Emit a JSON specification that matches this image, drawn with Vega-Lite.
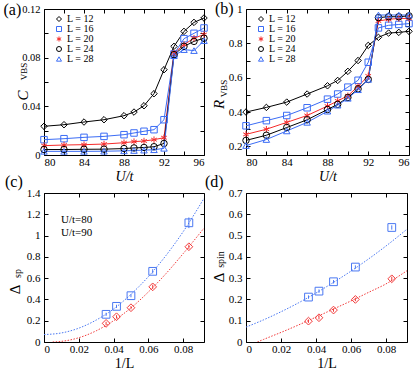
{
"$schema": "https://vega.github.io/schema/vega-lite/v6.json",
"padding": {"left": 3, "top": 0, "right": 0, "bottom": 0},
"background": "white",
"bounds": "flush",
"columns": 2,
"spacing": {"row": 38, "column": 42},
"resolve": {"scale": {"x": "independent", "y": "independent", "color": "independent", "shape": "independent"}, "legend": {"color": "independent", "shape": "independent"}},
"datasets": {
"ab": [
{"U":80,"L":12,"C":0.0236,"R":0.40},{"U":82,"L":12,"C":0.0249,"R":0.427},{"U":84,"L":12,"C":0.0271,"R":0.458},{"U":86,"L":12,"C":0.029,"R":0.505},{"U":88,"L":12,"C":0.0323,"R":0.553},{"U":89,"L":12,"C":0.0353,"R":0.584},{"U":90,"L":12,"C":0.0405,"R":0.637},{"U":91,"L":12,"C":0.0504,"R":0.70},{"U":92,"L":12,"C":0.0701,"R":0.788},{"U":93,"L":12,"C":0.0893,"R":0.835},{"U":94,"L":12,"C":0.1016,"R":0.86},{"U":95,"L":12,"C":0.109,"R":0.864},{"U":96,"L":12,"C":0.1126,"R":0.87},
{"U":80,"L":16,"C":0.0126,"R":0.32},{"U":82,"L":16,"C":0.0134,"R":0.35},{"U":84,"L":16,"C":0.0145,"R":0.38},{"U":86,"L":16,"C":0.0153,"R":0.425},{"U":88,"L":16,"C":0.0167,"R":0.475},{"U":89,"L":16,"C":0.0181,"R":0.505},{"U":90,"L":16,"C":0.0195,"R":0.545},{"U":91,"L":16,"C":0.0208,"R":0.585},{"U":92,"L":16,"C":0.029,"R":0.69},{"U":93,"L":16,"C":0.083,"R":0.89},{"U":94,"L":16,"C":0.0956,"R":0.905},{"U":95,"L":16,"C":0.100,"R":0.91},{"U":96,"L":16,"C":0.1044,"R":0.915},
{"U":80,"L":20,"C":0.0077,"R":0.27},{"U":82,"L":20,"C":0.0082,"R":0.30},{"U":84,"L":20,"C":0.0085,"R":0.34},{"U":86,"L":20,"C":0.009,"R":0.38},{"U":88,"L":20,"C":0.0101,"R":0.435},{"U":89,"L":20,"C":0.011,"R":0.465},{"U":90,"L":20,"C":0.0115,"R":0.495},{"U":91,"L":20,"C":0.0126,"R":0.55},{"U":92,"L":20,"C":0.0142,"R":0.61},{"U":93,"L":20,"C":0.0838,"R":0.93},{"U":94,"L":20,"C":0.0907,"R":0.94},{"U":95,"L":20,"C":0.096,"R":0.945},{"U":96,"L":20,"C":0.099,"R":0.945},
{"U":80,"L":24,"C":0.0045,"R":0.235},{"U":82,"L":24,"C":0.0045,"R":0.265},{"U":84,"L":24,"C":0.0047,"R":0.31},{"U":86,"L":24,"C":0.0048,"R":0.355},{"U":88,"L":24,"C":0.0053,"R":0.415},{"U":89,"L":24,"C":0.0058,"R":0.445},{"U":90,"L":24,"C":0.0062,"R":0.485},{"U":91,"L":24,"C":0.0068,"R":0.535},{"U":92,"L":24,"C":0.0095,"R":0.59},{"U":93,"L":24,"C":0.0825,"R":0.95},{"U":94,"L":24,"C":0.0893,"R":0.955},{"U":95,"L":24,"C":0.0934,"R":0.955},{"U":96,"L":24,"C":0.096,"R":0.96},
{"U":80,"L":28,"C":0.003,"R":0.205},{"U":82,"L":28,"C":0.003,"R":0.24},{"U":84,"L":28,"C":0.003,"R":0.29},{"U":86,"L":28,"C":0.0031,"R":0.34},{"U":88,"L":28,"C":0.0034,"R":0.405},{"U":89,"L":28,"C":0.0037,"R":0.44},{"U":90,"L":28,"C":0.004,"R":0.48},{"U":91,"L":28,"C":0.0043,"R":0.53},{"U":92,"L":28,"C":0.0055,"R":0.59},{"U":93,"L":28,"C":0.0816,"R":0.965},{"U":94,"L":28,"C":0.0866,"R":0.965},{"U":95,"L":28,"C":0.0858,"R":0.965},{"U":96,"L":28,"C":0.094,"R":0.965}
],
"cd": [
{"L":28,"invL":0.0357,"U":80,"sp":0.26,"sp_err":0.015,"spin":0.211,"spin_err":0.008},
{"L":24,"invL":0.0417,"U":80,"sp":0.335,"sp_err":0.015,"spin":0.239,"spin_err":0.008},
{"L":20,"invL":0.05,"U":80,"sp":0.435,"sp_err":0.015,"spin":0.283,"spin_err":0.008},
{"L":16,"invL":0.0625,"U":80,"sp":0.664,"sp_err":0.02,"spin":0.352,"spin_err":0.008},
{"L":12,"invL":0.0833,"U":80,"sp":1.12,"sp_err":0.05,"spin":0.538,"spin_err":0.01},
{"L":28,"invL":0.0357,"U":90,"sp":0.175,"sp_err":0.015,"spin":0.098,"spin_err":0.008},
{"L":24,"invL":0.0417,"U":90,"sp":0.237,"sp_err":0.015,"spin":0.114,"spin_err":0.008},
{"L":20,"invL":0.05,"U":90,"sp":0.322,"sp_err":0.015,"spin":0.15,"spin_err":0.008},
{"L":16,"invL":0.0625,"U":90,"sp":0.518,"sp_err":0.02,"spin":0.2,"spin_err":0.008},
{"L":12,"invL":0.0833,"U":90,"sp":0.895,"sp_err":0.02,"spin":0.297,"spin_err":0.01}
],
"cfit": [
{"x":0,"U":80,"y":0.07},{"x":0.01,"U":80,"y":0.085},{"x":0.02,"U":80,"y":0.13},{"x":0.03,"U":80,"y":0.206},{"x":0.04,"U":80,"y":0.31},{"x":0.05,"U":80,"y":0.448},{"x":0.06,"U":80,"y":0.614},{"x":0.07,"U":80,"y":0.81},{"x":0.08,"U":80,"y":1.036},{"x":0.092,"U":80,"y":1.35},
{"x":0.005,"U":90,"y":0},{"x":0.01,"U":90,"y":0.006},{"x":0.02,"U":90,"y":0.04},{"x":0.03,"U":90,"y":0.105},{"x":0.04,"U":90,"y":0.2},{"x":0.05,"U":90,"y":0.32},{"x":0.06,"U":90,"y":0.47},{"x":0.07,"U":90,"y":0.64},{"x":0.08,"U":90,"y":0.83},{"x":0.092,"U":90,"y":1.07}
],
"dfit": [
{"x":0,"U":80,"y":0.07},{"x":0.01,"U":80,"y":0.104},{"x":0.02,"U":80,"y":0.142},{"x":0.03,"U":80,"y":0.184},{"x":0.04,"U":80,"y":0.23},{"x":0.05,"U":80,"y":0.28},{"x":0.06,"U":80,"y":0.333},{"x":0.07,"U":80,"y":0.39},{"x":0.08,"U":80,"y":0.451},{"x":0.092,"U":80,"y":0.53},
{"x":0.0065,"U":90,"y":0},{"x":0.01,"U":90,"y":0.012},{"x":0.02,"U":90,"y":0.045},{"x":0.03,"U":90,"y":0.08},{"x":0.04,"U":90,"y":0.117},{"x":0.05,"U":90,"y":0.155},{"x":0.06,"U":90,"y":0.193},{"x":0.07,"U":90,"y":0.233},{"x":0.08,"U":90,"y":0.273},{"x":0.092,"U":90,"y":0.335}
]
},
"concat": [
{
"width": 160, "height": 146,
"title": {"text": "(a)", "dx": -40.5, "dy": 17.5},
"data": {"name": "ab"},
"layer": [
{"mark": {"type": "line", "strokeWidth": 1},
 "encoding": {
  "x": {"field": "U", "type": "quantitative", "scale": {"domain": [80, 96], "nice": false, "zero": false},
        "axis": {"values": [80, 84, 88, 92, 96], "title": "U/t", "titleFontStyle": "italic", "titleFontSize": 14, "titlePadding": 2, "ticks": false, "tickSize": 0, "domain": false, "labelPadding": 1}},
  "y": {"field": "C", "type": "quantitative", "scale": {"domain": [0, 0.12], "nice": false},
        "axis": {"values": [0, 0.04, 0.08, 0.12], "format": ".2~f", "labelFontSize": 10.5, "labelFlush": false, "labelOverlap": false, "title": "C", "titleFontStyle": "italic", "titleFontSize": 15, "titleX": -22, "titleY": 86, "titleAngle": -90, "titleAlign": "center", "titleBaseline": "middle", "ticks": false, "tickSize": 0, "domain": false, "labelPadding": 4}},
  "color": {"field": "L", "type": "nominal", "scale": {"domain": [12, 16, 20, 24, 28], "range": ["#000000", "#3b6cf5", "#f52a2a", "#000000", "#3b6cf5"]},
        "legend": {"orient": "none", "legendX": 10, "legendY": 5, "title": null, "labelExpr": "'L = ' + datum.label", "labelFontSize": 10, "symbolSize": 25, "rowPadding": -1.5, "labelOffset": 3, "symbolStrokeWidth": 1}}
 }},
{"mark": {"type": "point", "filled": false, "strokeWidth": 1, "size": 42, "opacity": 1},
 "encoding": {
  "x": {"field": "U", "type": "quantitative", "axis": null},
  "y": {"field": "C", "type": "quantitative", "axis": null},
  "color": {"field": "L", "type": "nominal", "legend": {"orient": "none", "legendX": 10, "legendY": 5, "title": null, "labelExpr": "'L = ' + datum.label", "labelFontSize": 10, "symbolSize": 25, "rowPadding": -1.5, "labelOffset": 3, "symbolStrokeWidth": 1}},
  "shape": {"field": "L", "type": "nominal", "scale": {"domain": [12, 16, 20, 24, 28], "range": ["diamond", "square", "M0,-1L0,1M-0.87,-0.5L0.87,0.5M-0.87,0.5L0.87,-0.5", "circle", "triangle-up"]},
        "legend": {"orient": "none", "legendX": 10, "legendY": 5, "title": null, "labelExpr": "'L = ' + datum.label", "labelFontSize": 10, "symbolSize": 25, "rowPadding": -1.5, "labelOffset": 3, "symbolStrokeWidth": 1}}
 }},
{"mark": {"type": "point", "opacity": 0},
 "encoding": {
  "x": {"field": "U", "type": "quantitative", "axis": {"orient": "bottom", "values": [80, 82, 84, 86, 88, 90, 92, 94, 96], "labels": false, "title": null, "domain": false, "tickSize": -4}},
  "y": {"field": "C", "type": "quantitative", "axis": {"orient": "left", "values": [0, 0.02, 0.04, 0.06, 0.08, 0.1, 0.12], "labels": false, "domain": false, "tickSize": -4, "title": "VBS", "titleFontSize": 9, "titleFontStyle": "normal", "titleX": -20.5, "titleY": 62, "titleAngle": -90, "titleAlign": "center", "titleBaseline": "middle"}}
 }},
{"mark": {"type": "point", "opacity": 0},
 "encoding": {
  "x": {"field": "U", "type": "quantitative", "axis": {"orient": "top", "values": [80, 82, 84, 86, 88, 90, 92, 94, 96], "labels": false, "title": null, "domain": false, "tickSize": -4}},
  "y": {"field": "C", "type": "quantitative", "axis": {"orient": "right", "values": [0, 0.02, 0.04, 0.06, 0.08, 0.1, 0.12], "labels": false, "title": null, "domain": false, "tickSize": -4}}
 }}
],
"resolve": {"axis": {"x": "independent", "y": "independent"}}
},
{
"width": 163, "height": 146,
"title": {"text": "(b)", "dx": -31, "dy": 17.5},
"data": {"name": "ab"},
"layer": [
{"mark": {"type": "line", "strokeWidth": 1},
 "encoding": {
  "x": {"field": "U", "type": "quantitative", "scale": {"domain": [80, 96], "nice": false, "zero": false},
        "axis": {"values": [80, 84, 88, 92, 96], "title": "U/t", "titleFontStyle": "italic", "titleFontSize": 14, "titlePadding": 2, "ticks": false, "tickSize": 0, "domain": false, "labelPadding": 1}},
  "y": {"field": "R", "type": "quantitative", "scale": {"domain": [0.15, 1], "nice": false, "zero": false},
        "axis": {"values": [0.2, 0.4, 0.6, 0.8, 1], "format": "~g", "labelFlush": false, "title": "R", "titleFontStyle": "italic", "titleFontSize": 15, "titleX": -28, "titleY": 95, "titleAngle": -90, "titleAlign": "center", "titleBaseline": "middle", "ticks": false, "tickSize": 0, "domain": false, "labelPadding": 4}},
  "color": {"field": "L", "type": "nominal", "scale": {"domain": [12, 16, 20, 24, 28], "range": ["#000000", "#3b6cf5", "#f52a2a", "#000000", "#3b6cf5"]},
        "legend": {"orient": "none", "legendX": 10, "legendY": 5, "title": null, "labelExpr": "'L = ' + datum.label", "labelFontSize": 10, "symbolSize": 25, "rowPadding": -1.5, "labelOffset": 3, "symbolStrokeWidth": 1}}
 }},
{"mark": {"type": "point", "filled": false, "strokeWidth": 1, "size": 42, "opacity": 1},
 "encoding": {
  "x": {"field": "U", "type": "quantitative", "axis": null},
  "y": {"field": "R", "type": "quantitative", "axis": null},
  "color": {"field": "L", "type": "nominal", "legend": {"orient": "none", "legendX": 10, "legendY": 5, "title": null, "labelExpr": "'L = ' + datum.label", "labelFontSize": 10, "symbolSize": 25, "rowPadding": -1.5, "labelOffset": 3, "symbolStrokeWidth": 1}},
  "shape": {"field": "L", "type": "nominal", "scale": {"domain": [12, 16, 20, 24, 28], "range": ["diamond", "square", "M0,-1L0,1M-0.87,-0.5L0.87,0.5M-0.87,0.5L0.87,-0.5", "circle", "triangle-up"]},
        "legend": {"orient": "none", "legendX": 10, "legendY": 5, "title": null, "labelExpr": "'L = ' + datum.label", "labelFontSize": 10, "symbolSize": 25, "rowPadding": -1.5, "labelOffset": 3, "symbolStrokeWidth": 1}}
 }},
{"mark": {"type": "point", "opacity": 0},
 "encoding": {
  "x": {"field": "U", "type": "quantitative", "axis": {"orient": "bottom", "values": [80, 82, 84, 86, 88, 90, 92, 94, 96], "labels": false, "title": null, "domain": false, "tickSize": -4}},
  "y": {"field": "R", "type": "quantitative", "axis": {"orient": "left", "values": [0.2, 0.3, 0.4, 0.5, 0.6, 0.7, 0.8, 0.9, 1], "labels": false, "domain": false, "tickSize": -4, "title": "VBS", "titleFontSize": 9, "titleFontStyle": "normal", "titleX": -23, "titleY": 79, "titleAngle": -90, "titleAlign": "center", "titleBaseline": "middle"}}
 }},
{"mark": {"type": "point", "opacity": 0},
 "encoding": {
  "x": {"field": "U", "type": "quantitative", "axis": {"orient": "top", "values": [80, 82, 84, 86, 88, 90, 92, 94, 96], "labels": false, "title": null, "domain": false, "tickSize": -4}},
  "y": {"field": "R", "type": "quantitative", "axis": {"orient": "right", "values": [0.2, 0.3, 0.4, 0.5, 0.6, 0.7, 0.8, 0.9, 1], "labels": false, "title": null, "domain": false, "tickSize": -4}}
 }}
],
"resolve": {"axis": {"x": "independent", "y": "independent"}}
},
{
"width": 160, "height": 149,
"title": {"text": "(c)", "dx": -39, "dy": 7},
"layer": [
{"data": {"name": "cfit"},
 "mark": {"type": "line", "strokeWidth": 1, "strokeDash": [1.5, 1.5], "interpolate": "monotone", "clip": true},
 "encoding": {
  "x": {"field": "x", "type": "quantitative", "scale": {"domain": [0, 0.092], "nice": false},
        "axis": {"values": [0, 0.02, 0.04, 0.06, 0.08], "format": "~g", "title": "1/L", "titleFontSize": 14, "titlePadding": 2, "ticks": false, "tickSize": 0, "domain": false, "labelPadding": 1}},
  "y": {"field": "y", "type": "quantitative", "scale": {"domain": [0, 1.4], "nice": false},
        "axis": {"values": [0, 0.2, 0.4, 0.6, 0.8, 1, 1.2, 1.4], "format": "~g", "labelFlush": false, "title": "Δ", "titleFontSize": 15, "titleX": -29.5, "titleY": 96, "titleAngle": -90, "titleAlign": "center", "titleBaseline": "middle", "ticks": false, "tickSize": 0, "domain": false, "labelPadding": 4}},
  "color": {"field": "U", "type": "nominal", "scale": {"domain": [80, 90], "range": ["#4a78f2", "#f23a3a"]},
        "legend": {"orient": "none", "legendX": 6, "legendY": 21, "title": null, "labelExpr": "'U/t=' + datum.label", "labelFontSize": 11, "symbolOpacity": 0, "symbolSize": 1, "labelOffset": 0, "rowPadding": 1}}
 }},
{"data": {"name": "cd"},
 "mark": {"type": "errorbar", "thickness": 1},
 "encoding": {
  "x": {"field": "invL", "type": "quantitative", "axis": null},
  "y": {"field": "sp", "type": "quantitative", "axis": null},
  "yError": {"field": "sp_err"},
  "color": {"field": "U", "type": "nominal", "legend": {"orient": "none", "legendX": 6, "legendY": 21, "title": null, "labelExpr": "'U/t=' + datum.label", "labelFontSize": 11, "symbolOpacity": 0, "symbolSize": 1, "labelOffset": 0, "rowPadding": 1}}
 }},
{"data": {"name": "cd"},
 "mark": {"type": "point", "filled": false, "strokeWidth": 1, "size": 60, "opacity": 1},
 "encoding": {
  "x": {"field": "invL", "type": "quantitative", "axis": null},
  "y": {"field": "sp", "type": "quantitative", "axis": null},
  "color": {"field": "U", "type": "nominal", "legend": {"orient": "none", "legendX": 6, "legendY": 21, "title": null, "labelExpr": "'U/t=' + datum.label", "labelFontSize": 11, "symbolOpacity": 0, "symbolSize": 1, "labelOffset": 0, "rowPadding": 1}},
  "shape": {"field": "U", "type": "nominal", "scale": {"domain": [80, 90], "range": ["square", "diamond"]},
        "legend": {"orient": "none", "legendX": 6, "legendY": 21, "title": null, "labelExpr": "'U/t=' + datum.label", "labelFontSize": 11, "symbolOpacity": 0, "symbolSize": 1, "labelOffset": 0, "rowPadding": 1}}
 }},
{"data": {"name": "cd"},
 "mark": {"type": "point", "opacity": 0},
 "encoding": {
  "x": {"field": "invL", "type": "quantitative", "axis": {"orient": "bottom", "values": [0, 0.02, 0.04, 0.06, 0.08], "labels": false, "title": null, "domain": false, "tickSize": -4}},
  "y": {"field": "sp", "type": "quantitative", "axis": {"orient": "left", "values": [0, 0.2, 0.4, 0.6, 0.8, 1, 1.2, 1.4], "labels": false, "domain": false, "tickSize": -4, "title": "sp", "titleFontSize": 10, "titleFontStyle": "normal", "titleX": -27, "titleY": 80, "titleAngle": -90, "titleAlign": "center", "titleBaseline": "middle"}}
 }},
{"data": {"name": "cd"},
 "mark": {"type": "point", "opacity": 0},
 "encoding": {
  "x": {"field": "invL", "type": "quantitative", "axis": {"orient": "top", "values": [0, 0.02, 0.04, 0.06, 0.08], "labels": false, "title": null, "domain": false, "tickSize": -4}},
  "y": {"field": "sp", "type": "quantitative", "axis": {"orient": "right", "values": [0, 0.2, 0.4, 0.6, 0.8, 1, 1.2, 1.4], "labels": false, "title": null, "domain": false, "tickSize": -4}}
 }}
],
"resolve": {"axis": {"x": "independent", "y": "independent"}}
},
{
"width": 161, "height": 149,
"title": {"text": "(d)", "dx": -41, "dy": 7},
"layer": [
{"data": {"name": "dfit"},
 "mark": {"type": "line", "strokeWidth": 1, "strokeDash": [1.5, 1.5], "interpolate": "monotone", "clip": true},
 "encoding": {
  "x": {"field": "x", "type": "quantitative", "scale": {"domain": [0, 0.092], "nice": false},
        "axis": {"values": [0, 0.02, 0.04, 0.06, 0.08], "format": "~g", "title": "1/L", "titleFontSize": 14, "titlePadding": 2, "ticks": false, "tickSize": 0, "domain": false, "labelPadding": 1}},
  "y": {"field": "y", "type": "quantitative", "scale": {"domain": [0, 0.7], "nice": false},
        "axis": {"values": [0, 0.1, 0.2, 0.3, 0.4, 0.5, 0.6, 0.7], "format": "~g", "labelFlush": false, "title": "Δ", "titleFontSize": 15, "titleX": -28, "titleY": 84, "titleAngle": -90, "titleAlign": "center", "titleBaseline": "middle", "ticks": false, "tickSize": 0, "domain": false, "labelPadding": 4}},
  "color": {"field": "U", "type": "nominal", "scale": {"domain": [80, 90], "range": ["#4a78f2", "#f23a3a"]}, "legend": null}
 }},
{"data": {"name": "cd"},
 "mark": {"type": "errorbar", "thickness": 1},
 "encoding": {
  "x": {"field": "invL", "type": "quantitative", "axis": null},
  "y": {"field": "spin", "type": "quantitative", "axis": null},
  "yError": {"field": "spin_err"},
  "color": {"field": "U", "type": "nominal", "legend": null}
 }},
{"data": {"name": "cd"},
 "mark": {"type": "point", "filled": false, "strokeWidth": 1, "size": 60, "opacity": 1},
 "encoding": {
  "x": {"field": "invL", "type": "quantitative", "axis": null},
  "y": {"field": "spin", "type": "quantitative", "axis": null},
  "color": {"field": "U", "type": "nominal", "legend": null},
  "shape": {"field": "U", "type": "nominal", "scale": {"domain": [80, 90], "range": ["square", "diamond"]}, "legend": null}
 }},
{"data": {"name": "cd"},
 "mark": {"type": "point", "opacity": 0},
 "encoding": {
  "x": {"field": "invL", "type": "quantitative", "axis": {"orient": "bottom", "values": [0, 0.02, 0.04, 0.06, 0.08], "labels": false, "title": null, "domain": false, "tickSize": -4}},
  "y": {"field": "spin", "type": "quantitative", "axis": {"orient": "left", "values": [0, 0.1, 0.2, 0.3, 0.4, 0.5, 0.6, 0.7], "labels": false, "domain": false, "tickSize": -4, "title": "spin", "titleFontSize": 10, "titleFontStyle": "normal", "titleX": -26, "titleY": 66, "titleAngle": -90, "titleAlign": "center", "titleBaseline": "middle"}}
 }},
{"data": {"name": "cd"},
 "mark": {"type": "point", "opacity": 0},
 "encoding": {
  "x": {"field": "invL", "type": "quantitative", "axis": {"orient": "top", "values": [0, 0.02, 0.04, 0.06, 0.08], "labels": false, "title": null, "domain": false, "tickSize": -4}},
  "y": {"field": "spin", "type": "quantitative", "axis": {"orient": "right", "values": [0, 0.1, 0.2, 0.3, 0.4, 0.5, 0.6, 0.7], "labels": false, "title": null, "domain": false, "tickSize": -4}}
 }}
],
"resolve": {"axis": {"x": "independent", "y": "independent"}}
}
],
"config": {
 "font": "Liberation Serif",
 "view": {"stroke": "black", "strokeWidth": 1},
 "axis": {"grid": false, "domainColor": "black", "tickColor": "black", "labelColor": "black", "titleColor": "black", "labelFont": "Liberation Serif", "titleFont": "Liberation Serif", "labelFontSize": 11, "titleFontWeight": "normal", "tickWidth": 1},
 "legend": {"labelFont": "Liberation Serif", "labelColor": "black", "padding": 0},
 "title": {"font": "Liberation Serif", "fontSize": 16, "fontWeight": "normal", "anchor": "start", "frame": "group", "color": "black", "offset": 4}
}
}
